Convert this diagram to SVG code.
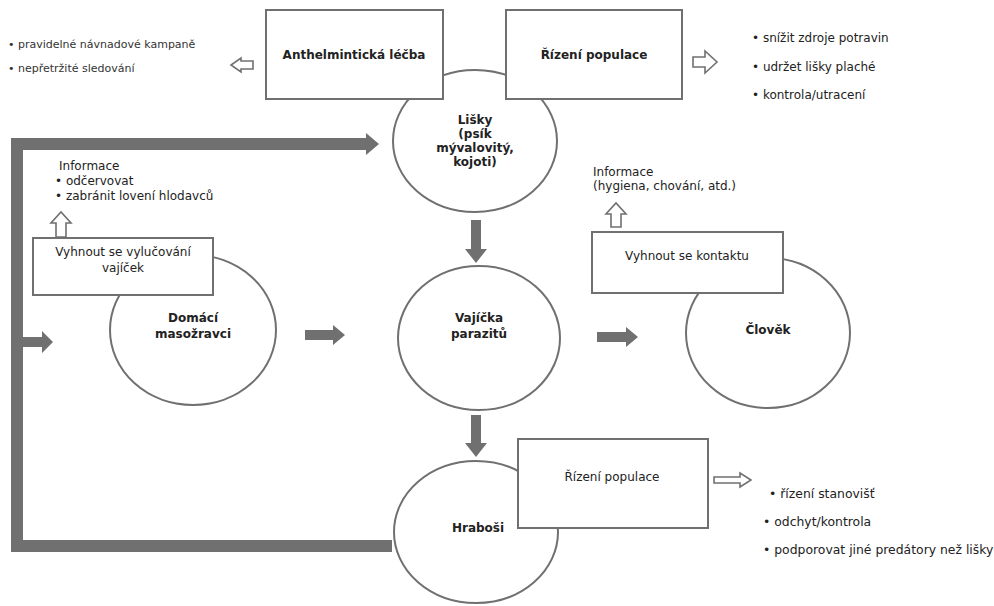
<svg xmlns="http://www.w3.org/2000/svg" width="994" height="606" viewBox="0 0 994 606">
<style>
.ell{fill:#fff;stroke:#707070;stroke-width:2}
.box{fill:#fff;stroke:#707070;stroke-width:2}
.t{font-family:"DejaVu Sans",Verdana,sans-serif;font-size:12px;fill:#222}
.b{font-weight:bold;text-anchor:middle}
.c{text-anchor:middle}
.l1{font-size:11px;fill:#333}
.l2{font-size:12px}
.l3{font-size:12.4px}
.solid{fill:#707070;stroke:none}
.hol{fill:#fff;stroke:#707070;stroke-width:1.6}
.loop{fill:none;stroke:#707070;stroke-width:12;stroke-linejoin:miter}
</style>
<rect width="994" height="606" fill="#fff"/>
<g id="connectors">
<polyline class="loop" points="392,546 17,546 17,144 368,144"/>
<polygon class="solid" points="366,133 379,144 366,155"/>
<polygon class="solid" points="22,337 42,337 42,331 53,342 42,353 42,347 22,347"/>
<polygon class="solid" points="471,220 481,220 481,249 487,249 476,263 465,249 471,249"/>
<polygon class="solid" points="471,415 481,415 481,443 487,443 476,457 465,443 471,443"/>
<polygon class="solid" points="305,330 333,330 333,325 345,335 333,345 333,340 305,340"/>
<polygon class="solid" points="597,332 626,332 626,327 638,337 626,347 626,342 597,342"/>
<polygon class="hol" points="253,61 241,61 241,58 231,65 241,72 241,69 253,69"/>
<polygon class="hol" points="693,57 705,57 705,51 717,62 705,73 705,67 693,67"/>
<polygon class="hol" points="56,237 56,223 51,223 61,212 71,223 66,223 66,237"/>
<polygon class="hol" points="611,227 611,214 606,214 616,203 626,214 621,214 621,227"/>
<polygon class="hol" points="714,477 740,477 740,473 751,480 740,487 740,483 714,483"/>
</g>
<g id="lisky">
<ellipse class="ell" cx="475" cy="141" rx="82" ry="71"/>
<text class="t b" x="475" y="124">Lišky</text>
<text class="t b" x="475" y="138">(psík</text>
<text class="t b" x="475" y="152">mývalovitý,</text>
<text class="t b" x="475" y="166">kojoti)</text>
</g>
<g id="anthelminticka">
<rect class="box" x="266" y="10" width="177" height="89"/>
<text class="t b" x="354" y="59">Anthelmintická léčba</text>
</g>
<g id="rizeni-top">
<rect class="box" x="506" y="10" width="176" height="89"/>
<text class="t b" x="594" y="59">Řízení populace</text>
</g>
<g id="list-top-left">
<text class="t l1" x="8" y="48">• pravidelné návnadové kampaně</text>
<text class="t l1" x="8" y="72">• nepřetržité sledování</text>
</g>
<g id="list-top-right">
<text class="t l2" x="752" y="42">• snížit zdroje potravin</text>
<text class="t l2" x="752" y="71">• udržet lišky plaché</text>
<text class="t l2" x="752" y="99">• kontrola/utracení</text>
</g>
<g id="domaci">
<ellipse class="ell" cx="193" cy="330" rx="83" ry="75"/>
<text class="t b" x="193" y="322">Domácí</text>
<text class="t b" x="193" y="338">masožravci</text>
</g>
<g id="vyhnout-vylucovani">
<rect class="box" x="33" y="238" width="180" height="57"/>
<text class="t c" x="123" y="256">Vyhnout se vylučování</text>
<text class="t c" x="123" y="272">vajíček</text>
</g>
<g id="info-left">
<text class="t" x="59" y="170">Informace</text>
<text class="t" x="55" y="185">• odčervovat</text>
<text class="t" x="55" y="200">• zabránit lovení hlodavců</text>
</g>
<g id="vajicka">
<ellipse class="ell" cx="479" cy="338" rx="81" ry="72"/>
<text class="t b" x="479" y="322">Vajíčka</text>
<text class="t b" x="479" y="338">parazitů</text>
</g>
<g id="clovek">
<ellipse class="ell" cx="768" cy="333" rx="82" ry="75"/>
<text class="t b" x="768" y="334">Člověk</text>
</g>
<g id="vyhnout-kontaktu">
<rect class="box" x="592" y="232" width="191" height="61"/>
<text class="t c" x="687" y="260">Vyhnout se kontaktu</text>
</g>
<g id="info-right">
<text class="t" x="593" y="176">Informace</text>
<text class="t" x="593" y="190">(hygiena, chování, atd.)</text>
</g>
<g id="hrabosi">
<ellipse class="ell" cx="476" cy="532" rx="82" ry="71"/>
<text class="t b" x="478" y="532">Hraboši</text>
</g>
<g id="rizeni-bottom">
<rect class="box" x="518" y="439" width="190" height="89"/>
<text class="t c" x="612" y="481">Řízení populace</text>
</g>
<g id="list-bottom">
<text class="t l3" x="769" y="498">• řízení stanovišť</text>
<text class="t l3" x="763" y="526">• odchyt/kontrola</text>
<text class="t l3" x="763" y="554">• podporovat jiné predátory než lišky</text>
</g>
</svg>
